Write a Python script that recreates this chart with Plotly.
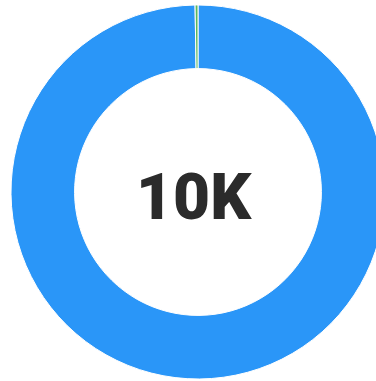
import plotly.graph_objects as go

labels = ["Total", "Other"]
values = [9975, 25]
colors = ["#2A96F8", "#5CB85C"]
center_text = "10K"

W, H = 396, 381

fig = go.Figure()
fig.add_trace(go.Pie(
    labels=labels,
    values=values,
    hole=0.66,
    sort=False,
    direction="clockwise",
    rotation=0,
    marker=dict(colors=colors, line=dict(color="white", width=1)),
    textinfo="none",
    hoverinfo="label+value",
    showlegend=False,
    domain=dict(x=[11 / W, 385 / W], y=[2 / H, 376 / H]),
))

fig.add_annotation(
    text=center_text,
    x=194 / W, y=1 - 197 / H, xref="paper", yref="paper",
    showarrow=False,
    font=dict(family="Roboto", size=64, color="#2B2B2B", weight=900),
)

fig.update_layout(
    width=W, height=H,
    margin=dict(l=0, r=0, t=0, b=0),
    paper_bgcolor="white",
    plot_bgcolor="white",
)

fig.write_html("out.html", config={"displayModeBar": False},
               post_script="document.body.style.margin='0';document.body.style.overflow='hidden';")
